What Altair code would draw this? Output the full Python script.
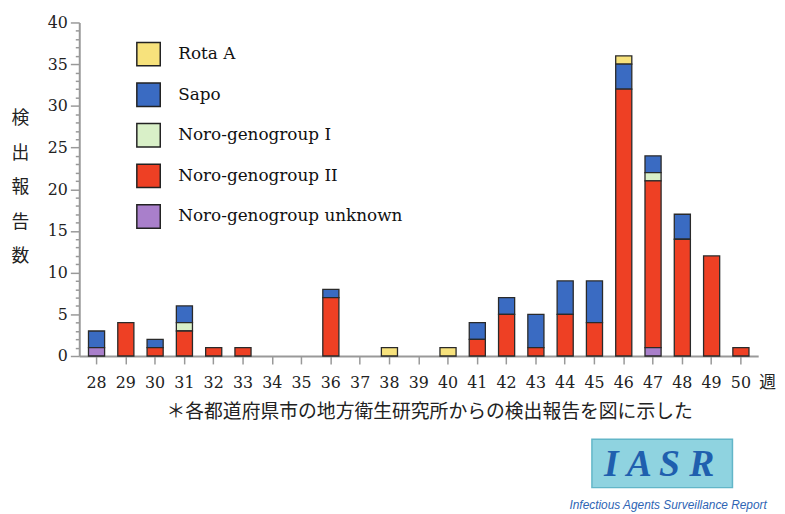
import altair as alt
import pandas as pd

weeks = list(range(28, 51))
categories = ["Rota A", "Sapo", "Noro-genogroup I", "Noro-genogroup II", "Noro-genogroup unknown"]
rota_a = [0, 0, 0, 0, 0, 0, 0, 0, 0, 0, 1, 0, 1, 0, 0, 0, 0, 0, 1, 0, 0, 0, 0]
sapo = [2, 0, 1, 2, 0, 0, 0, 0, 1, 0, 0, 0, 0, 2, 2, 4, 4, 5, 3, 2, 3, 0, 0]
noro_1 = [0, 0, 0, 1, 0, 0, 0, 0, 0, 0, 0, 0, 0, 0, 0, 0, 0, 0, 0, 1, 0, 0, 0]
noro_2 = [0, 4, 1, 3, 1, 1, 0, 0, 7, 0, 0, 0, 0, 2, 5, 1, 5, 4, 32, 20, 14, 12, 1]
noro_unknown = [1, 0, 0, 0, 0, 0, 0, 0, 0, 0, 0, 0, 0, 0, 0, 0, 0, 0, 0, 1, 0, 0, 0]
colors = ["#f7e27c", "#3a6bc2", "#d9f0c8", "#ee4024", "#a97fcb"]

y_title = ["検", "出", "報", "告", "数"]
x_unit = "週"
caption = "＊各都道府県市の地方衛生研究所からの検出報告を図に示した"
logo = "I A S R"
logo_sub = "Infectious Agents Surveillance Report"

series = {
    "Rota A": rota_a,
    "Sapo": sapo,
    "Noro-genogroup I": noro_1,
    "Noro-genogroup II": noro_2,
    "Noro-genogroup unknown": noro_unknown,
}
stack_order = {"Noro-genogroup unknown": 0, "Noro-genogroup II": 1,
               "Noro-genogroup I": 2, "Sapo": 3, "Rota A": 4}
rows = []
for name, vals in series.items():
    for w, v in zip(weeks, vals):
        if v > 0:
            rows.append({"week": w, "type": name, "count": v, "ord": stack_order[name]})
df = pd.DataFrame(rows)

serif = "DejaVu Serif"
cjk = "Noto Sans CJK JP"

bars = alt.Chart(df).mark_bar(stroke="#2a2a2a", strokeWidth=1.3).encode(
    x=alt.X("week:O", scale=alt.Scale(domain=weeks, paddingInner=0.45, paddingOuter=0.315),
            axis=alt.Axis(title=x_unit, titleX=695, titleY=27, titleAngle=0,
                          titleBaseline="middle", titleAlign="center",
                          titleFont=cjk, titleFontSize=17, titleFontWeight="normal",
                          titleColor="#222",
                          labelAngle=0, labelFont=serif, labelFontSize=16, labelColor="#222",
                          labelPadding=11, tickSize=8, tickColor="#999", tickWidth=1.5,
                          domainColor="#999", domainWidth=2)),
    y=alt.Y("count:Q", stack="zero",
            scale=alt.Scale(domain=[0, 40], nice=False),
            axis=alt.Axis(values=list(range(0, 41)), grid=False,
                          labelExpr="datum.value % 5 === 0 ? datum.label : ''",
                          labelOverlap=False, labelFont=serif, labelFontSize=16,
                          labelColor="#222", labelPadding=3,
                          tickSize={"condition": {"test": "datum.value % 5 === 0", "value": 9}, "value": 4},
                          tickColor="#999", tickWidth=1.5,
                          domainColor="#999", domainWidth=2,
                          title=y_title, titleAngle=0, titleX=-60, titleY=88,
                          titleAlign="center", titleBaseline="top", titleLineHeight=35,
                          titleFont=cjk, titleFontSize=18, titleFontWeight="normal",
                          titleColor="#222")),
    color=alt.Color("type:N", scale=alt.Scale(domain=categories, range=colors),
                    legend=alt.Legend(title=None, orient="none", legendX=57, legendY=19,
                                      direction="vertical", symbolType="square",
                                      symbolSize=560, symbolStrokeColor="#222",
                                      symbolStrokeWidth=1.5, symbolOpacity=1,
                                      rowPadding=11, labelOffset=17, padding=0,
                                      labelFont=serif, labelFontSize=17, labelColor="#111",
                                      labelLimit=400)),
    order=alt.Order("ord:Q", sort="ascending"),
)

one = pd.DataFrame({"k": [0]})

cap = alt.Chart(one).mark_text(font=cjk, fontSize=19, color="#222", align="center",
                               baseline="middle").encode(
    x=alt.value(354), y=alt.value(394), text=alt.value(caption))

box = alt.Chart(one).mark_rect(fill="#8fd3e0", stroke="#62b6c8", strokeWidth=1.5).encode(
    x=alt.value(518), x2=alt.value(660), y=alt.value(421), y2=alt.value(470))

logo_txt = alt.Chart(one).mark_text(font="Liberation Serif", fontSize=38, fontStyle="italic",
                                    fontWeight="bold", color="#1f5fae", align="center",
                                    baseline="middle").encode(
    x=alt.value(586), y=alt.value(447), text=alt.value(logo))

sub_txt = alt.Chart(one).mark_text(font="Liberation Sans", fontSize=12, fontStyle="italic",
                                   color="#2e64b4", align="center", baseline="middle").encode(
    x=alt.value(595), y=alt.value(488), text=alt.value(logo_sub))

chart = alt.layer(bars, cap, box, logo_txt, sub_txt).properties(
    width=686, height=337,
    padding={"left": 72, "top": 12, "right": 19, "bottom": 155},
    autosize=alt.AutoSizeParams(type="none"),
).configure_view(stroke=None)

chart.save("out.html", embed_options={"renderer": "svg", "actions": False})
